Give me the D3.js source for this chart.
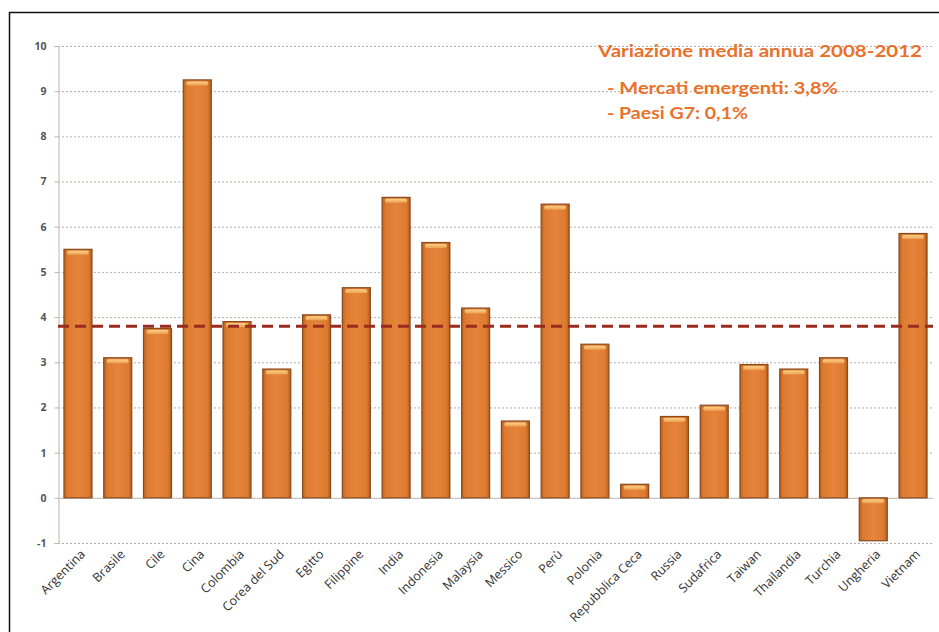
<!DOCTYPE html>
<html>
<head>
<meta charset="utf-8">
<script src="https://cdn.jsdelivr.net/npm/d3@7/dist/d3.min.js"></script>
<style>
  html, body { margin: 0; padding: 0; background: #fff; }
  svg { display: block; }
</style>
</head>
<body>
<svg id="chart" width="939" height="632"></svg>
<script>
// Annual average growth 2008-2012 by emerging market (%)
const countries = ["Argentina", "Brasile", "Cile", "Cina", "Colombia", "Corea del Sud", "Egitto",
  "Filippine", "India", "Indonesia", "Malaysia", "Messico", "Perù", "Polonia", "Repubblica Ceca",
  "Russia", "Sudafrica", "Taiwan", "Thailandia", "Turchia", "Ungheria", "Vietnam"];
const growth = [5.5, 3.1, 3.75, 9.25, 3.9, 2.85, 4.05, 4.65, 6.65, 5.65, 4.2, 1.7, 6.5, 3.4, 0.3,
  1.8, 2.05, 2.95, 2.85, 3.1, -0.95, 5.85];
const yTicks = [-1, 0, 1, 2, 3, 4, 5, 6, 7, 8, 9, 10];
const emergingAvg = 3.8;
const noteLines = ["Variazione media annua 2008-2012", "- Mercati emergenti: 3,8%", "- Paesi G7: 0,1%"];

const data = countries.map((c, i) => ({ country: c, value: growth[i] }));

const svg = d3.select("#chart");
const plotLeft = 58, plotRight = 933, plotTop = 46, plotBottom = 543;

// outer frame
svg.append("rect").attr("x", 9.5).attr("y", 12.5).attr("width", 940).attr("height", 640)
  .attr("fill", "#fff").attr("stroke", "#111").attr("stroke-width", 1.5);

const y = d3.scaleLinear().domain([-1, 10]).range([plotBottom, plotTop]);
const x = d3.scaleBand().domain(countries).range([plotLeft, plotRight]).paddingInner(0.296).paddingOuter(0.15);

const defs = svg.append("defs");
const grad = defs.append("linearGradient").attr("id", "barGrad").attr("x1", 0).attr("x2", 1).attr("y1", 0).attr("y2", 0);
grad.append("stop").attr("offset", "0%").attr("stop-color", "#b8621f");
grad.append("stop").attr("offset", "12%").attr("stop-color", "#dc7a30");
grad.append("stop").attr("offset", "50%").attr("stop-color", "#e5843a");
grad.append("stop").attr("offset", "88%").attr("stop-color", "#dc7a30");
grad.append("stop").attr("offset", "100%").attr("stop-color", "#b05c1c");
const topGrad = defs.append("linearGradient").attr("id", "topGrad").attr("x1", 0).attr("x2", 0).attr("y1", 0).attr("y2", 1);
topGrad.append("stop").attr("offset", "0%").attr("stop-color", "#fbd08a");
topGrad.append("stop").attr("offset", "100%").attr("stop-color", "#eea050");

// gridlines
svg.append("g").selectAll("line").data(yTicks.filter(t => t !== 0)).join("line")
  .attr("x1", plotLeft).attr("x2", plotRight)
  .attr("y1", d => y(d) + 0.5).attr("y2", d => y(d) + 0.5)
  .attr("stroke", "#b8aca8").attr("stroke-width", 1).attr("stroke-dasharray", "2,2");

// y axis (plain hyphen for negatives)
const yAxis = d3.axisLeft(y).tickValues(yTicks).tickSize(4).tickFormat(d => String(d));
const gy = svg.append("g").attr("transform", `translate(${plotLeft + 0.5},0)`).call(yAxis);
gy.select(".domain").attr("stroke", "#bfb3ae");
gy.selectAll(".tick line").attr("stroke", "#bfb3ae");
gy.selectAll(".tick text").attr("font-family", "Open Sans, sans-serif").attr("font-weight", "bold")
  .attr("font-size", 10.5).attr("fill", "#555").attr("x", -12);

// zero line
svg.append("line").attr("x1", plotLeft).attr("x2", plotRight).attr("y1", y(0) + 0.5).attr("y2", y(0) + 0.5)
  .attr("stroke", "#bfb3ae").attr("stroke-width", 1);

// bars
const bars = svg.append("g").selectAll("g").data(data).join("g");
bars.append("rect")
  .attr("x", d => x(d.country))
  .attr("y", d => y(Math.max(0, d.value)))
  .attr("width", x.bandwidth())
  .attr("height", d => Math.abs(y(d.value) - y(0)))
  .attr("fill", "url(#barGrad)")
  .attr("stroke", "#8a4a1c").attr("stroke-width", 1.2);
bars.append("rect")
  .attr("x", d => x(d.country) + 3)
  .attr("y", d => y(Math.max(0, d.value)) + 1.5)
  .attr("width", x.bandwidth() - 6)
  .attr("height", 4)
  .attr("rx", 2)
  .attr("fill", "url(#topGrad)");

// emerging markets average
svg.append("line").attr("x1", plotLeft).attr("x2", plotRight)
  .attr("y1", y(emergingAvg)).attr("y2", y(emergingAvg))
  .attr("stroke", "#9a2b1f").attr("stroke-width", 3).attr("stroke-dasharray", "11,6");

// category labels
svg.append("g").selectAll("text").data(countries).join("text")
  .attr("transform", d => `translate(${x(d) + x.bandwidth() / 2 + 8},${y(-1) + 12}) rotate(-45)`)
  .attr("text-anchor", "end")
  .attr("font-family", "Open Sans, sans-serif")
  .attr("font-size", 12.5)
  .attr("fill", "#333")
  .text(d => d);

// note
const note = svg.append("g").attr("font-family", "Lato, sans-serif").attr("font-weight", "bold").attr("fill", "#e9712a");
note.append("text").attr("x", 598).attr("y", 57).attr("font-size", 17.5).attr("textLength", 324).attr("lengthAdjust", "spacingAndGlyphs").text(noteLines[0]);
note.append("text").attr("x", 607).attr("y", 94).attr("font-size", 17.5).attr("textLength", 231).attr("lengthAdjust", "spacingAndGlyphs").text(noteLines[1]);
note.append("text").attr("x", 607).attr("y", 119).attr("font-size", 17.5).attr("textLength", 141).attr("lengthAdjust", "spacingAndGlyphs").text(noteLines[2]);
</script>
</body>
</html>
